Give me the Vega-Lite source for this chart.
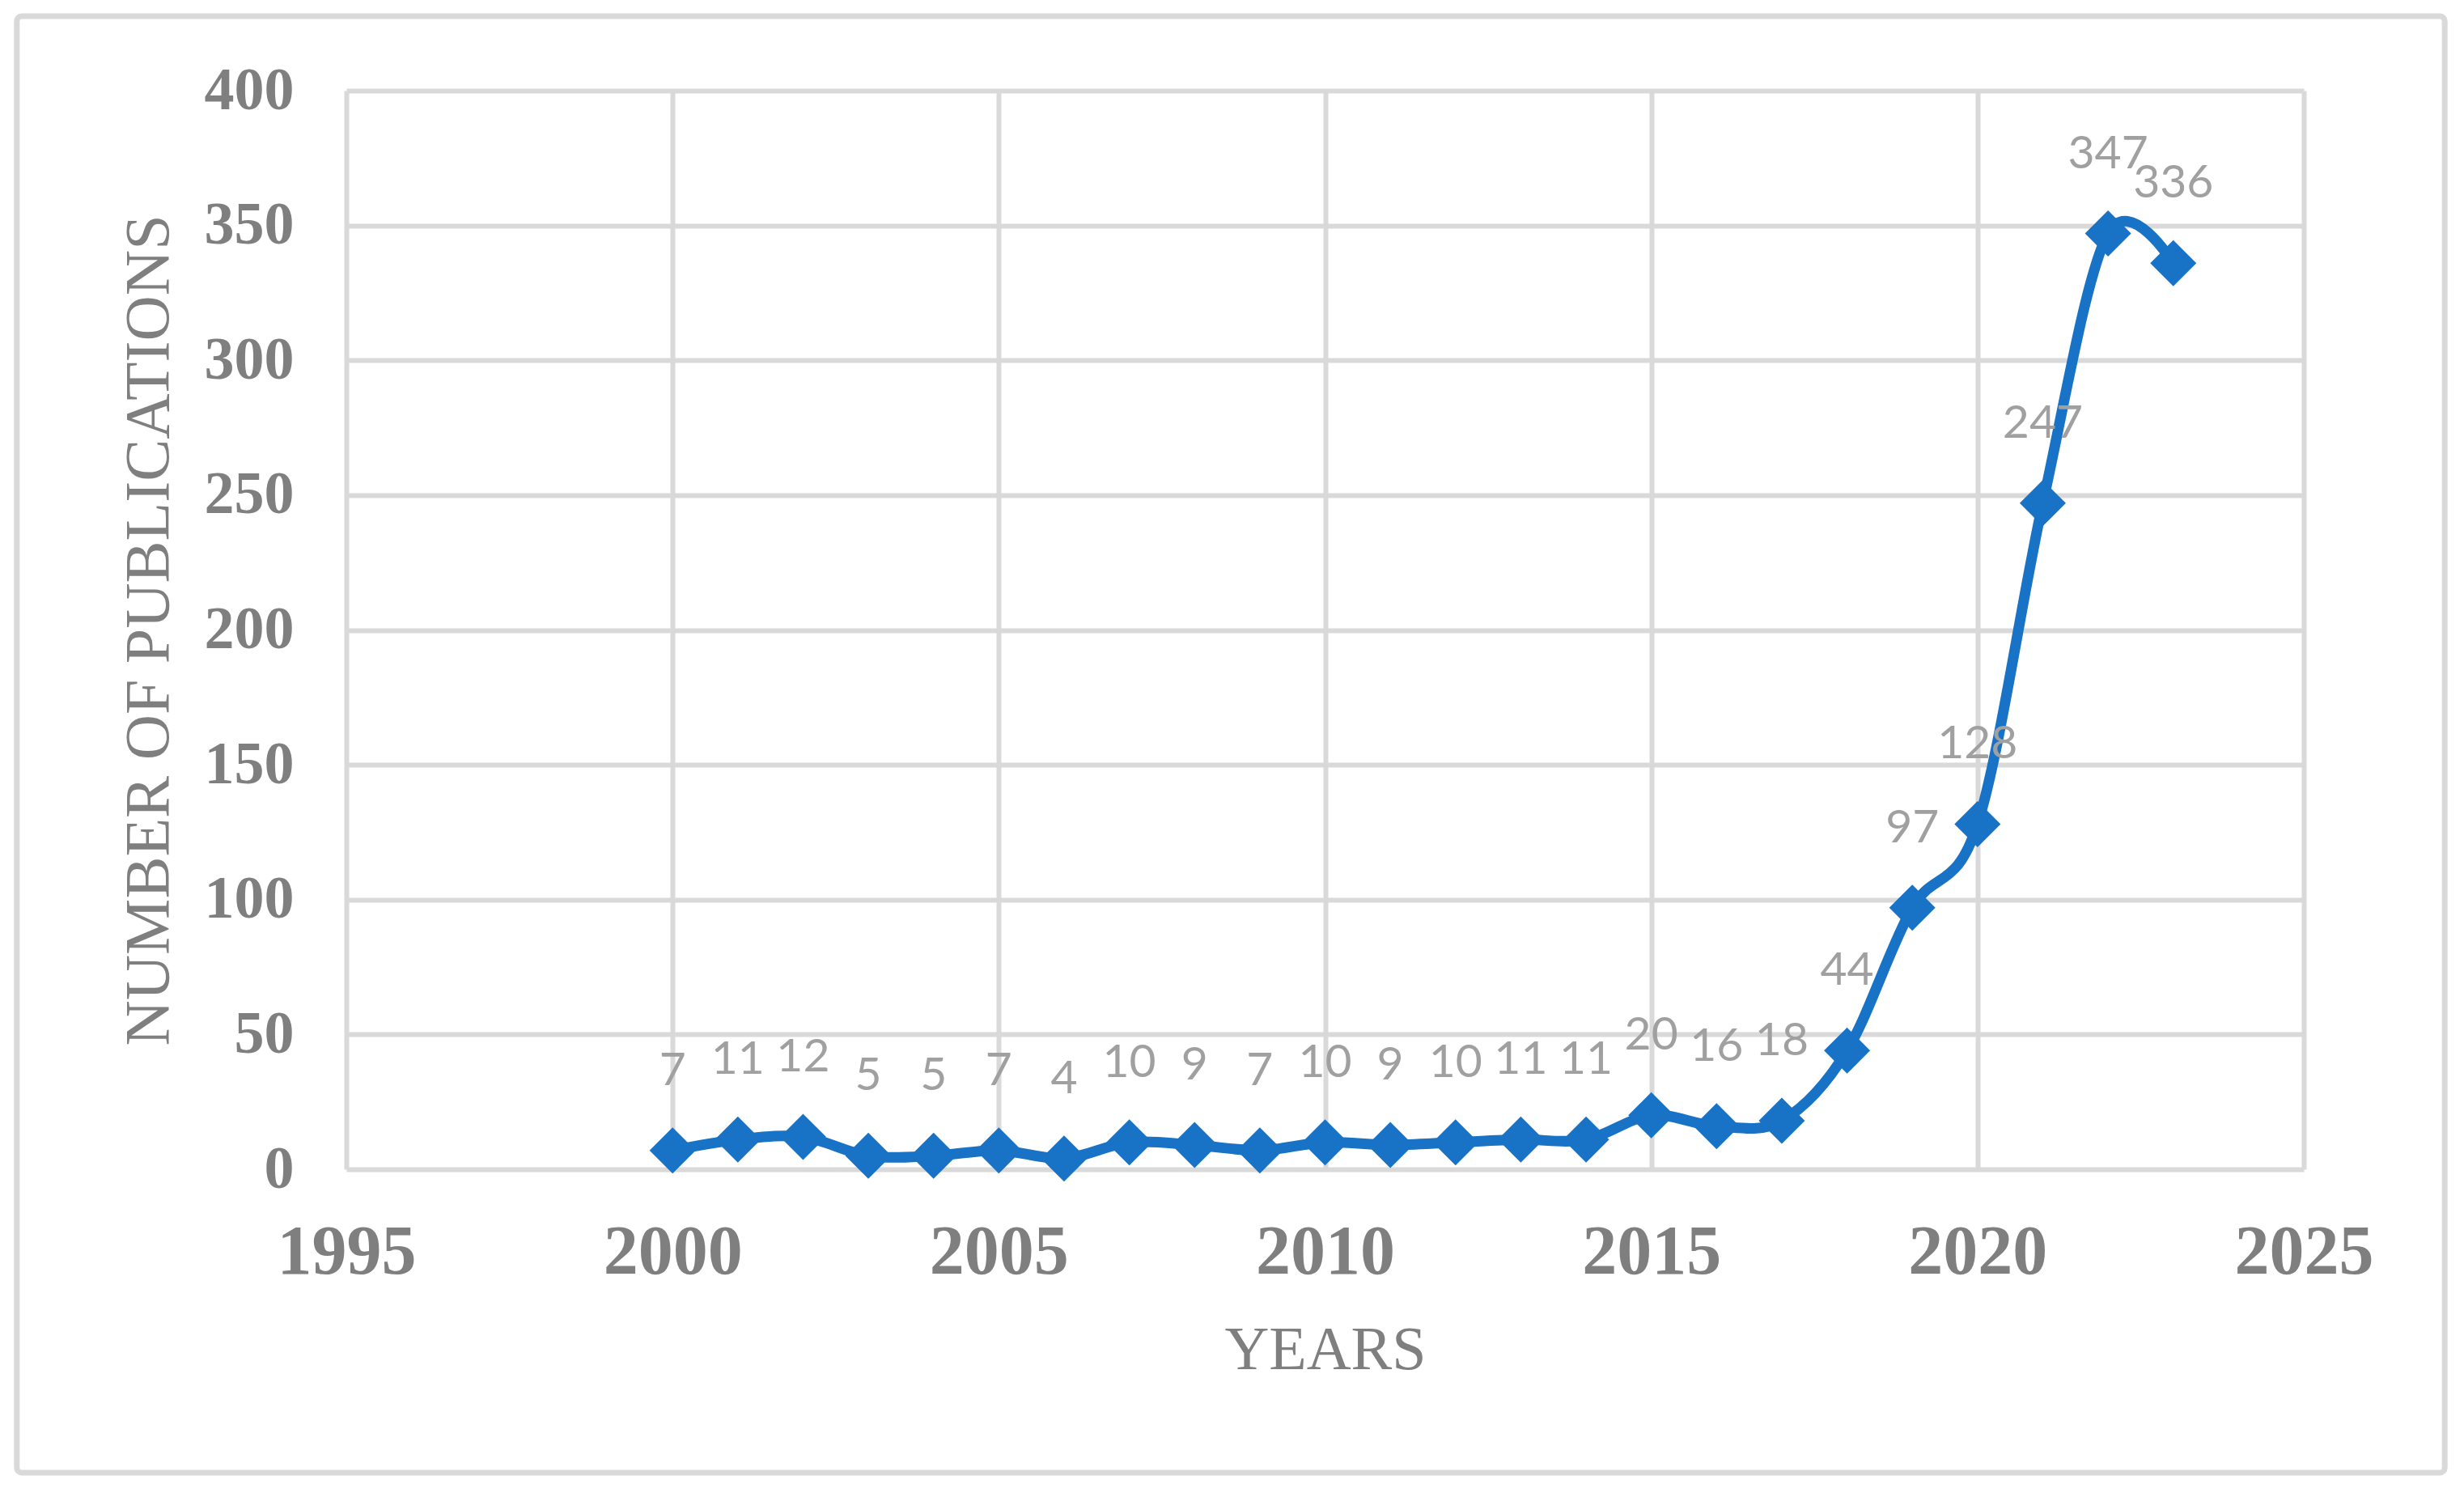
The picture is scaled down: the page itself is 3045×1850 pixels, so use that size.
{
  "$schema": "https://vega.github.io/schema/vega-lite/v6.json",
  "width": 2419,
  "height": 1333,
  "autosize": {"type": "none"},
  "padding": {"left": 428, "top": 112, "right": 198, "bottom": 405},
  "background": "white",
  "config": {"view": {"stroke": null}},
  "datasets": {
    "pubs": [
      {"year": 2000, "publications": 7},
      {"year": 2001, "publications": 11},
      {"year": 2002, "publications": 12},
      {"year": 2003, "publications": 5},
      {"year": 2004, "publications": 5},
      {"year": 2005, "publications": 7},
      {"year": 2006, "publications": 4},
      {"year": 2007, "publications": 10},
      {"year": 2008, "publications": 9},
      {"year": 2009, "publications": 7},
      {"year": 2010, "publications": 10},
      {"year": 2011, "publications": 9},
      {"year": 2012, "publications": 10},
      {"year": 2013, "publications": 11},
      {"year": 2014, "publications": 11},
      {"year": 2015, "publications": 20},
      {"year": 2016, "publications": 16},
      {"year": 2017, "publications": 18},
      {"year": 2018, "publications": 44},
      {"year": 2019, "publications": 97},
      {"year": 2020, "publications": 128},
      {"year": 2021, "publications": 247},
      {"year": 2022, "publications": 347},
      {"year": 2023, "publications": 336}
    ],
    "frame": [{"frame": "chart area"}]
  },
  "layer": [
    {
      "data": {"name": "frame"},
      "mark": {"type": "rect", "filled": true, "color": "white", "fillOpacity": 0, "stroke": "#d9d9d9", "strokeOpacity": 1, "strokeWidth": 7, "cornerRadius": 6, "clip": false},
      "encoding": {
        "x": {"datum": 1989.95, "type": "quantitative", "scale": {"domain": [1995, 2025], "zero": false, "nice": false}},
        "x2": {"datum": 2027.16},
        "y": {"datum": 427.6, "type": "quantitative", "scale": {"domain": [0, 400], "nice": false}},
        "y2": {"datum": -112.5}
      }
    },
    {
      "data": {"name": "pubs"},
      "encoding": {
        "x": {
          "field": "year",
          "type": "quantitative",
          "scale": {"domain": [1995, 2025], "zero": false, "nice": false},
          "axis": {
            "values": [1995, 2000, 2005, 2010, 2015, 2020, 2025],
            "format": "d",
            "labelFont": "Liberation Serif",
            "labelFontSize": 86,
            "labelFontWeight": "bold",
            "labelColor": "#7f7f7f",
            "labelPadding": 60,
            "labelFlush": false,
            "labelOverlap": false,
            "labelBaseline": "top",
            "ticks": false,
            "tickSize": 0,
            "domain": false,
            "grid": true,
            "gridColor": "#d9d9d9",
            "gridWidth": 6,
            "title": "YEARS",
            "titleFont": "Liberation Serif",
            "titleFontSize": 76,
            "titleFontWeight": "normal",
            "titleColor": "#7f7f7f",
            "titlePadding": 41
          }
        },
        "y": {
          "field": "publications",
          "type": "quantitative",
          "scale": {"domain": [0, 400], "nice": false},
          "axis": {
            "values": [0, 50, 100, 150, 200, 250, 300, 350, 400],
            "labelFont": "Liberation Serif",
            "labelFontSize": 74,
            "labelFontWeight": "bold",
            "labelColor": "#7f7f7f",
            "labelPadding": 65,
            "labelFlush": false,
            "labelOverlap": false,
            "ticks": false,
            "tickSize": 0,
            "domain": false,
            "grid": true,
            "gridColor": "#d9d9d9",
            "gridWidth": 6,
            "title": "NUMBER OF PUBLICATIONS",
            "titleFont": "Liberation Serif",
            "titleFontSize": 78,
            "titleFontWeight": "normal",
            "titleColor": "#7f7f7f",
            "titlePadding": 29
          }
        }
      },
      "layer": [
        {
          "mark": {"type": "line", "color": "#1872c6", "strokeWidth": 13, "interpolate": "cardinal"}
        },
        {
          "mark": {"type": "point", "shape": "diamond", "filled": true, "size": 3249, "color": "#1872c6", "opacity": 1, "strokeWidth": 0}
        },
        {
          "mark": {"type": "text", "font": "Lato", "fontSize": 57, "color": "#a0a0a0", "baseline": "middle", "align": "center", "dy": -98},
          "encoding": {"text": {"field": "publications", "type": "quantitative"}}
        }
      ]
    }
  ]
}
